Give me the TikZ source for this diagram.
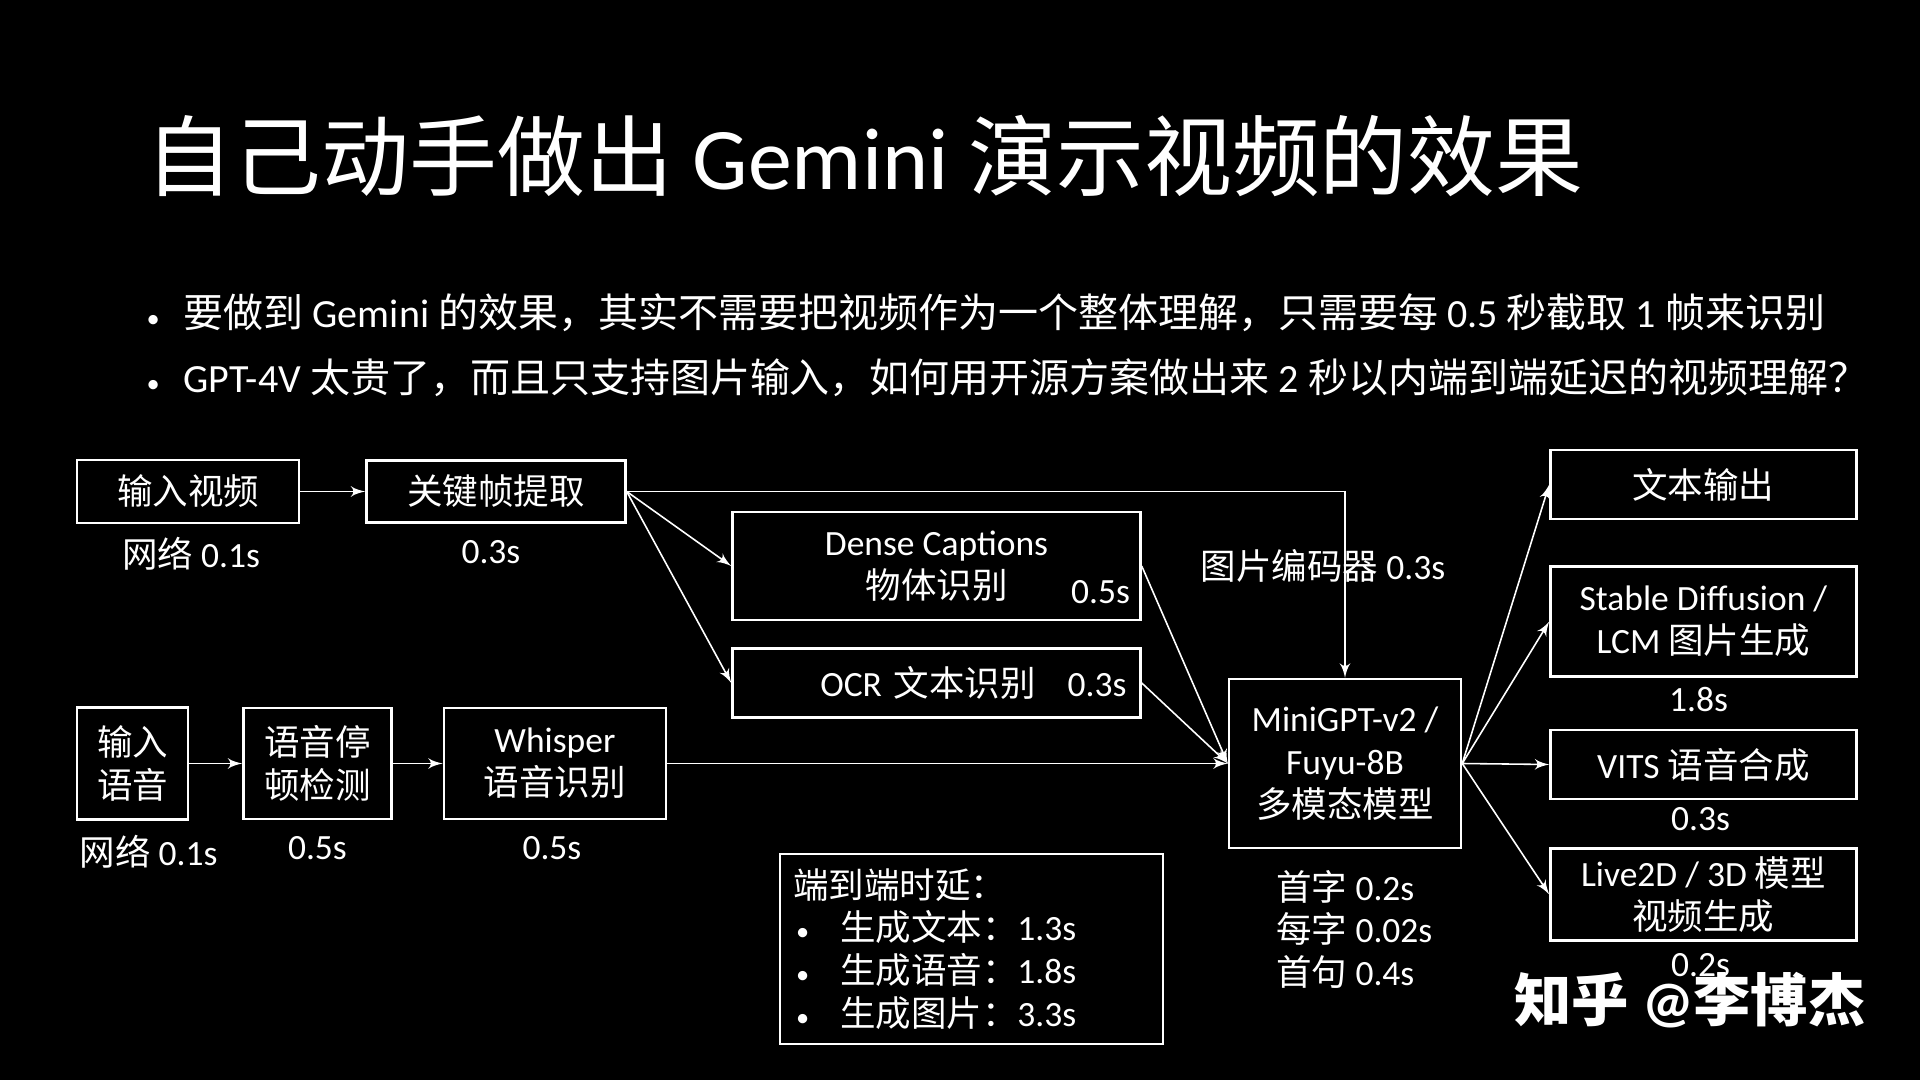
\documentclass[tikz,border=0pt]{standalone}
\usepackage{fontspec}
\setmainfont{Carlito}
\newfontfamily\latinfnt{Carlito}
\newfontfamily\cjkfnt{Noto Sans CJK SC}
\XeTeXinterchartokenstate=1
\newXeTeXintercharclass\zhclass
\makeatletter
\count@="3000
\loop\XeTeXcharclass\count@=\zhclass\advance\count@ by 1 \ifnum\count@<"A000 \repeat
\count@="FF00
\loop\XeTeXcharclass\count@=\zhclass\advance\count@ by 1 \ifnum\count@<"FFF0 \repeat
\makeatother
\XeTeXinterchartoks 0 \zhclass = {\cjkfnt}
\XeTeXinterchartoks 4095 \zhclass = {\cjkfnt}
\XeTeXinterchartoks \zhclass 0 = {\latinfnt}
\XeTeXinterchartoks \zhclass 4095 = {\latinfnt}
\XeTeXinterchartoks 4095 0 = {\latinfnt}
\usepackage{tikz}
\usetikzlibrary{arrows,calc,positioning}
\newcommand\boxfnt{\fontsize{10.1pt}{12.2pt}\selectfont}
\newcommand\bulfnt{\fontsize{11.38pt}{14pt}\selectfont}
\newcommand\ttlfnt{\fontsize{25pt}{28pt}\selectfont}
\newcommand\wmfnt{\fontsize{16.3pt}{18pt}\selectfont\bfseries}
\newcommand\bul[2]{\makebox[#1][l]{\hspace{#2}{\fontsize{7.5pt}{8pt}\selectfont•}}}
\tikzstyle{blk}=[draw=white,line width=0.7pt,text=white,inner sep=0pt,align=center,font=\boxfnt]
\tikzstyle{lbl}=[text=white,inner sep=0pt,font=\boxfnt]
\tikzstyle{cnx}=[white,line width=0.45pt,->]

\begin{document}
\begin{tikzpicture}[
            >=latex'
        ]
        \fill[black] (0,0) rectangle (19.2,-10.8);
        \useasboundingbox (0,0) rectangle (19.2,-10.8);
        \node [text=white,anchor=west,inner sep=0pt,font=\ttlfnt] (ttl) at (1.45,-1.56) {自己动手做出 Gemini 演示视频的效果};
        \node [text=white,anchor=west,inner sep=0pt,font=\bulfnt] (b1) at (1.27,-3.13) {\bul{0.56cm}{0.19cm}要做到 Gemini 的效果，其实不需要把视频作为一个整体理解，只需要每 0.5 秒截取 1 帧来识别};
        \node [text=white,anchor=west,inner sep=0pt,font=\bulfnt] (b2) at (1.27,-3.78) {\bul{0.56cm}{0.19cm}GPT-4V 太贵了，而且只支持图片输入，如何用开源方案做出来 2 秒以内端到端延迟的视频理解？};

        \node [blk,minimum width=2.22cm,minimum height=0.63cm] (vin) at (1.88,-4.915) {输入视频};
        \node [blk,minimum width=2.59cm,minimum height=0.62cm,right=0.65cm of vin] (kf) {关键帧提取};
        \node [blk,minimum width=1.11cm,minimum height=1.12cm] (ain) at (1.325,-7.635) {输入\\语音};
        \node [blk,minimum width=1.48cm,minimum height=1.11cm,right=0.53cm of ain] (vad) {语音停\\顿检测};
        \node [blk,minimum width=2.22cm,minimum height=1.11cm,right=0.50cm of vad] (asr) {Whisper\\语音识别};
        \node [blk,minimum width=4.08cm,minimum height=0.69cm,text width=3.80cm,align=right] (ocr) at (9.365,-6.83) {OCR 文本识别\hspace{0.2cm} 0.3s};
        \node [blk,minimum width=4.08cm,minimum height=1.08cm,above=0.26cm of ocr] (dense) {Dense Captions\\物体识别};
        \node [blk,minimum width=2.32cm,minimum height=1.69cm] (llm) at (13.45,-7.635) {MiniGPT-v2 /\\Fuyu-8B\\多模态模型};
        \node [blk,minimum width=3.06cm,minimum height=0.69cm,right=0.87cm of llm,yshift=-0.01cm] (tts) {VITS 语音合成};
        \node [blk,minimum width=3.06cm,minimum height=1.10cm,above=0.51cm of tts] (sd) {Stable Diffusion /\\LCM 图片生成};
        \node [blk,minimum width=3.06cm,minimum height=0.69cm,above=0.45cm of sd] (txt) {文本输出};
        \node [blk,minimum width=3.06cm,minimum height=0.92cm,below=0.47cm of tts] (l2d) {Live2D / 3D 模型\\视频生成};
        \node [blk,text width=3.57cm,align=left,minimum height=1.90cm,inner xsep=0.13cm] (lat) at (9.715,-9.49) {端到端时延：\\\bul{0.47cm}{0.03cm}生成文本：1.3s\\\bul{0.47cm}{0.03cm}生成语音：1.8s\\\bul{0.47cm}{0.03cm}生成图片：3.3s};

        \node [lbl] (vinT) at ($(vin.south)+(0.03,-0.30)$) {网络 0.1s};
        \node [lbl] (kfT) at ($(kf.south)+(-0.05,-0.28)$) {0.3s};
        \node [lbl] (ainT) at ($(ain.south)+(0.16,-0.31)$) {网络 0.1s};
        \node [lbl] (vadT) at ($(vad.south)+(0,-0.28)$) {0.5s};
        \node [lbl] (asrT) at ($(asr.south)+(-0.03,-0.28)$) {0.5s};
        \node [lbl,anchor=east] (denseT) at ($(dense.south east)+(-0.11,0.29)$) {0.5s};
        \node [lbl] (sdT) at ($(sd.south)+(-0.05,-0.22)$) {1.8s};
        \node [lbl] (ttsT) at ($(tts.south)+(-0.03,-0.19)$) {0.3s};
        \node [lbl] (l2dT) at ($(l2d.south)+(-0.03,-0.23)$) {0.2s};
        \node [lbl,align=left,anchor=north west] (llmT) at ($(llm.south west)+(0.48,-0.20)$) {首字 0.2s\\每字 0.02s\\首句 0.4s};
        \node [lbl,font=\wmfnt] (wm) at (16.90,-10.00) {知乎 @李博杰};

        \draw[cnx] (vin) -- (kf);
        \draw[cnx] (kf.east) -- (dense.west);
        \draw[cnx] (kf.east) -- (ocr.west);
        \draw[cnx] (kf.east) -| (llm.north) node[lbl,pos=0.70,xshift=-0.22cm] (encT) {图片编码器 0.3s};
        \draw[cnx] (dense.east) -- (llm.west);
        \draw[cnx] (ocr.east) -- (llm.west);
        \draw[cnx] (ain) -- (vad);
        \draw[cnx] (vad) -- (asr);
        \draw[cnx] (asr) -- (llm.west);
        \draw[cnx] (llm.east) -- (txt.west);
        \draw[cnx] (llm.east) -- (sd.west);
        \draw[cnx] (llm.east) -- (tts.west);
        \draw[cnx] (llm.east) -- (l2d.west);
    \end{tikzpicture}
\end{document}
